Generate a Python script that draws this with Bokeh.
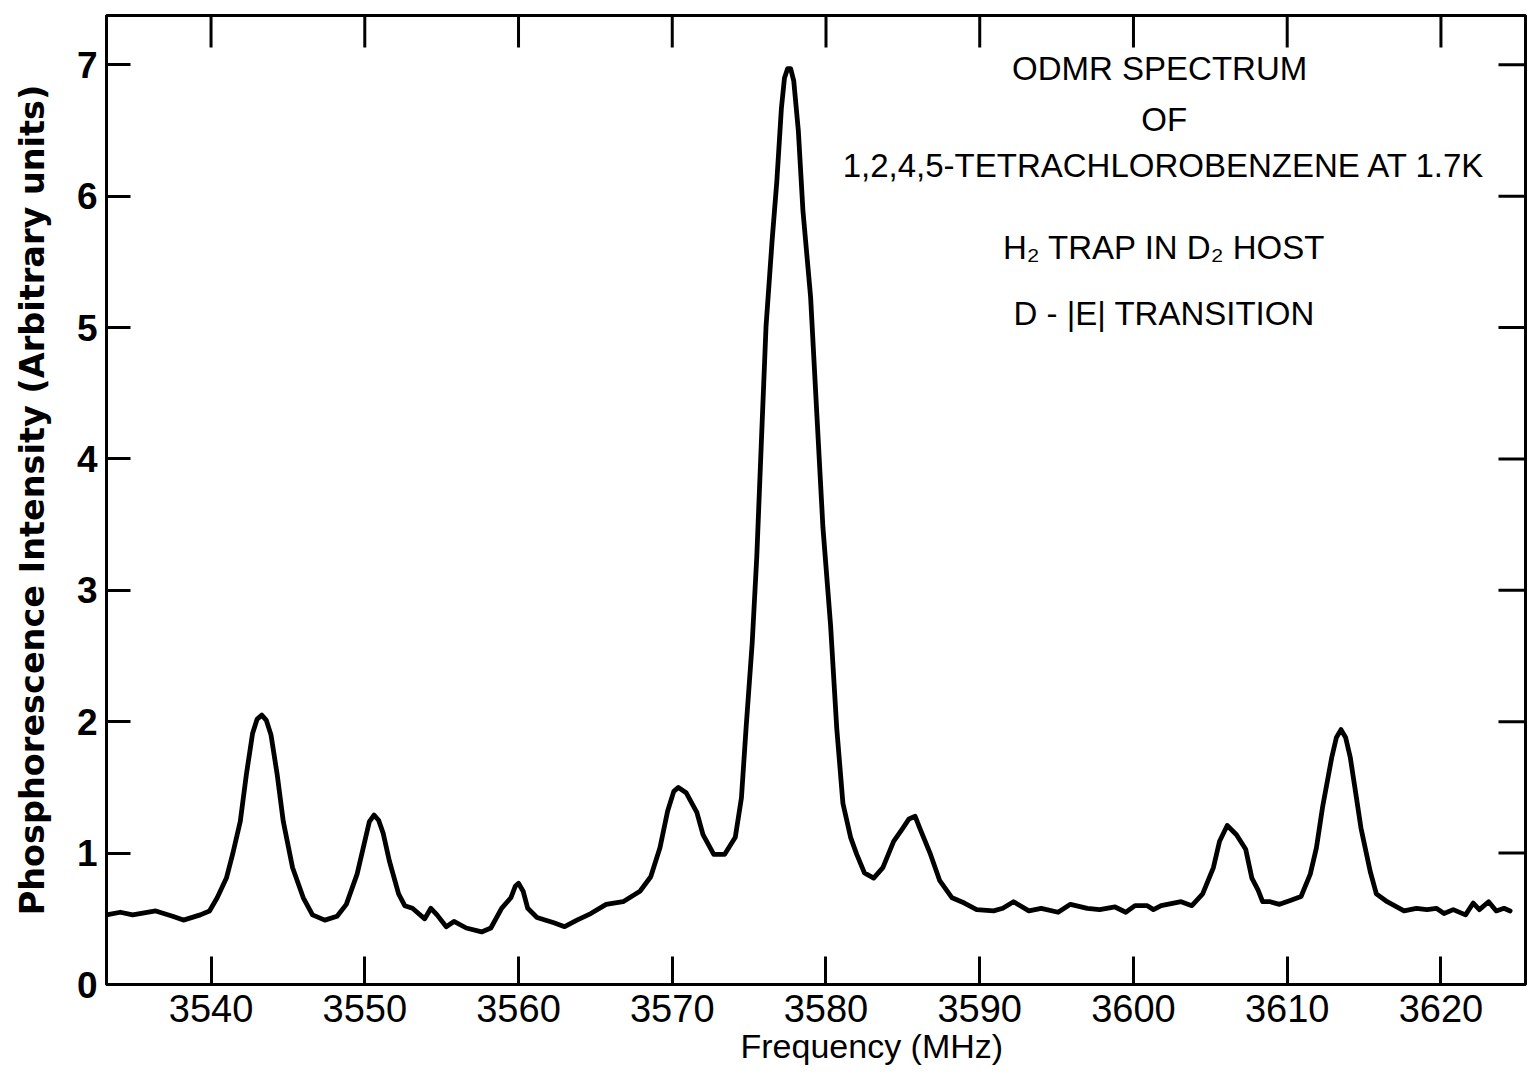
from bokeh.plotting import figure
from bokeh.models import Range1d, Label, FixedTicker, Title
from bokeh.embed import file_html
from bokeh.resources import INLINE

# ---- data ----
freq_mhz = [
    3533.2, 3534.1, 3534.9, 3536.4, 3537.5, 3538.2, 3539.3, 3539.9, 3540.4, 3541.0,
    3541.4, 3541.9, 3542.3, 3542.7, 3543.0, 3543.3, 3543.6, 3543.9, 3544.3, 3544.7,
    3545.3, 3546.0, 3546.6, 3547.4, 3548.2, 3548.8, 3549.5, 3550.0, 3550.3, 3550.6,
    3550.9, 3551.2, 3551.6, 3552.2, 3552.6, 3553.1, 3553.9, 3554.3, 3554.7, 3555.3,
    3555.8, 3556.6, 3557.6, 3558.2, 3558.9, 3559.5, 3559.8, 3560.0, 3560.3, 3560.6,
    3561.2, 3562.3, 3563.0, 3563.8, 3564.7, 3565.7, 3566.8, 3567.9, 3568.6, 3569.2,
    3569.7, 3570.1, 3570.4, 3570.9, 3571.6, 3572.0, 3572.7, 3573.4, 3574.1, 3574.5,
    3574.8, 3575.2, 3575.5, 3575.8, 3576.1, 3576.5, 3576.8, 3577.1, 3577.3, 3577.5,
    3577.7, 3577.9, 3578.2, 3578.5, 3579.0, 3579.4, 3579.8, 3580.3, 3580.7, 3581.1,
    3581.6, 3582.0, 3582.5, 3583.1, 3583.7, 3584.4, 3585.0, 3585.4, 3585.8, 3586.1,
    3586.8, 3587.4, 3588.2, 3589.0, 3589.8, 3590.9, 3591.5, 3592.2, 3593.2, 3594.0,
    3595.1, 3595.9, 3597.0, 3597.8, 3598.8, 3599.5, 3600.1, 3600.9, 3601.3, 3601.8,
    3603.1, 3603.8, 3604.5, 3605.2, 3605.6, 3606.1, 3606.7, 3607.3, 3607.7, 3608.1,
    3608.4, 3608.9, 3609.5, 3610.2, 3610.9, 3611.5, 3611.9, 3612.3, 3612.9, 3613.2,
    3613.5, 3613.8, 3614.1, 3614.4, 3614.8, 3615.4, 3615.8, 3616.5, 3617.6, 3618.4,
    3619.1, 3619.7, 3620.2, 3620.8, 3621.6, 3622.1, 3622.5, 3623.1, 3623.6, 3624.1,
    3624.5,
]
intensity = [
    0.53, 0.55, 0.53, 0.56, 0.52, 0.49, 0.53, 0.56, 0.66, 0.81,
    0.99, 1.24, 1.60, 1.91, 2.02, 2.05, 2.01, 1.90, 1.60, 1.24,
    0.89, 0.66, 0.53, 0.49, 0.52, 0.61, 0.84, 1.09, 1.24, 1.29,
    1.25, 1.15, 0.94, 0.69, 0.60, 0.58, 0.50, 0.58, 0.53, 0.44,
    0.48, 0.43, 0.40, 0.43, 0.58, 0.66, 0.75, 0.77, 0.71, 0.58,
    0.51, 0.47, 0.44, 0.49, 0.54, 0.61, 0.63, 0.71, 0.82, 1.04,
    1.32, 1.47, 1.50, 1.46, 1.31, 1.14, 0.99, 0.99, 1.12, 1.42,
    1.95, 2.60, 3.26, 4.14, 5.01, 5.67, 6.11, 6.67, 6.90, 6.97,
    6.97, 6.88, 6.50, 5.89, 5.23, 4.35, 3.48, 2.73, 1.95, 1.38,
    1.12, 0.99, 0.85, 0.81, 0.89, 1.09, 1.19, 1.26, 1.28, 1.19,
    0.99, 0.79, 0.66, 0.62, 0.57, 0.56, 0.58, 0.63, 0.56, 0.58,
    0.55, 0.61, 0.58, 0.57, 0.59, 0.55, 0.60, 0.60, 0.57, 0.60,
    0.63, 0.60, 0.69, 0.89, 1.09, 1.21, 1.14, 1.03, 0.81, 0.72,
    0.63, 0.63, 0.61, 0.64, 0.67, 0.84, 1.04, 1.35, 1.73, 1.88,
    1.94, 1.88, 1.73, 1.50, 1.19, 0.86, 0.69, 0.63, 0.56, 0.58,
    0.57, 0.58, 0.54, 0.57, 0.53, 0.62, 0.57, 0.63, 0.56, 0.58,
    0.56,
]
x_ticks = [3540, 3550, 3560, 3570, 3580, 3590, 3600, 3610, 3620]
y_ticks = [0, 1, 2, 3, 4, 5, 6, 7]
annotation_lines = [
    "ODMR  SPECTRUM",
    "OF",
    "1,2,4,5-TETRACHLOROBENZENE AT 1.7K",
    "H\u2082 TRAP IN D\u2082 HOST",
    "D - |E| TRANSITION",
]
x_title = "Frequency (MHz)"
y_title = "Phosphorescence Intensity (Arbitrary units)"

SANS = "Liberation Sans"

X0, X1 = 3533.2, 3625.5
Y0, Y1 = 0.0, 7.375

p = figure(
    width=1528, height=1081,
    x_range=Range1d(X0, X1), y_range=Range1d(Y0, Y1),
    output_backend="svg", toolbar_location=None,
    min_border_left=106, min_border_right=3, min_border_top=15, min_border_bottom=97,
)
p.grid.visible = False
p.background_fill_color = "white"
p.border_fill_color = "white"
p.outline_line_color = "black"
p.outline_line_width = 3

p.line(freq_mhz, intensity, line_color="black", line_width=4.8, line_join="round", line_cap="round")

# inward ticks on the top and right edges (same tick values as the axes)
top_len = 32 * (Y1 - Y0) / 969.0
right_len = 27 * (X1 - X0) / 1419.0
p.segment(x0=x_ticks, y0=[Y1] * len(x_ticks), x1=x_ticks, y1=[Y1 - top_len] * len(x_ticks),
          line_color="black", line_width=3)
p.segment(x0=[X1] * len(y_ticks), y0=y_ticks, x1=[X1 - right_len] * len(y_ticks), y1=y_ticks,
          line_color="black", line_width=3)

# bottom axis
xa = p.xaxis[0]
xa.ticker = FixedTicker(ticks=x_ticks)
xa.major_tick_in = 28
xa.major_tick_out = 0
xa.minor_tick_line_color = None
xa.axis_line_width = 3
xa.major_tick_line_width = 3
xa.major_label_text_font = SANS
xa.major_label_text_font_size = "38px"
xa.major_label_text_color = "black"
xa.major_label_standoff = 10

# left axis
ya = p.yaxis[0]
ya.ticker = FixedTicker(ticks=y_ticks)
ya.major_tick_in = 24
ya.major_tick_out = 0
ya.minor_tick_line_color = None
ya.axis_line_width = 3
ya.major_tick_line_width = 3
ya.major_label_text_font = SANS
ya.major_label_text_font_style = "bold"
ya.major_label_text_font_size = "37px"
ya.major_label_text_color = "black"
ya.major_label_standoff = 9
ya.axis_label = y_title
ya.axis_label_text_font = "DejaVu Sans"
ya.axis_label_text_font_style = "bold"
ya.axis_label_text_font_size = "33.5px"
ya.axis_label_standoff = 22
ya.axis_label_text_color = "black"

# x title, shifted right of centre as in the reference
p.add_layout(Title(text=x_title, align="left", offset=634, standoff=0,
                   text_font=SANS, text_font_size="34px", text_font_style="normal",
                   text_color="black"), "below")

# in-plot annotation block
ann_y = [6.97, 6.58, 6.23, 5.61, 5.11]
for txt, yy in zip(annotation_lines, ann_y):
    p.add_layout(Label(x=3602.0, y=yy, text=txt, text_align="center", text_baseline="middle",
                       text_font=SANS, text_font_size="33px", text_color="black"))

open("out.html", "w").write(file_html(p, INLINE))
